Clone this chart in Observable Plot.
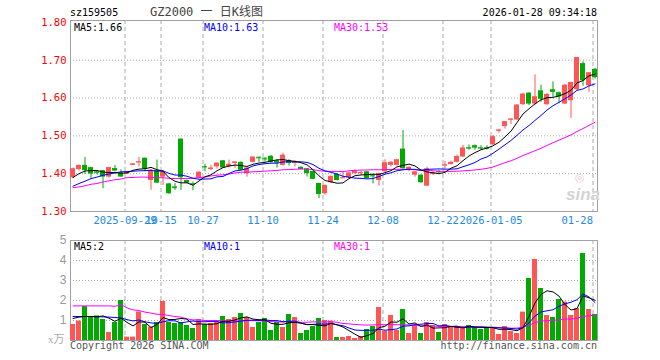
<!DOCTYPE html>
<html><head><meta charset="utf-8">
<script src="https://cdn.jsdelivr.net/npm/d3@7"></script>
<script src="https://cdn.jsdelivr.net/npm/@observablehq/plot@0.6"></script>
<style>
body{margin:0;background:#fff;}
#wrap{position:relative;width:660px;height:360px;overflow:hidden;font-family:"DejaVu Sans Mono","Liberation Mono",monospace;}
#wrap > svg{position:absolute;left:0;}
.t{position:absolute;font-size:10px;white-space:nowrap;line-height:10px;}
</style></head><body><div id="wrap"></div>
<script>
// ---- data ----
const dates = [
 "2025-09-16","2025-09-17","2025-09-18","2025-09-19","2025-09-22","2025-09-23","2025-09-24","2025-09-25","2025-09-26","2025-09-29",
 "2025-09-30","2025-10-09","2025-10-10","2025-10-13","2025-10-14","2025-10-15","2025-10-16","2025-10-17","2025-10-20","2025-10-21",
 "2025-10-22","2025-10-23","2025-10-27","2025-10-28","2025-10-29","2025-10-30","2025-10-31","2025-11-03","2025-11-04","2025-11-05",
 "2025-11-06","2025-11-07","2025-11-10","2025-11-11","2025-11-12","2025-11-13","2025-11-14","2025-11-17","2025-11-18","2025-11-19",
 "2025-11-20","2025-11-21","2025-11-24","2025-11-25","2025-11-26","2025-11-27","2025-11-28","2025-12-01","2025-12-02","2025-12-03",
 "2025-12-04","2025-12-05","2025-12-08","2025-12-09","2025-12-10","2025-12-11","2025-12-12","2025-12-15","2025-12-16","2025-12-17",
 "2025-12-18","2025-12-19","2025-12-22","2025-12-23","2025-12-24","2025-12-25","2025-12-26","2025-12-29","2025-12-30","2025-12-31",
 "2026-01-05","2026-01-06","2026-01-07","2026-01-08","2026-01-09","2026-01-12","2026-01-13","2026-01-14","2026-01-15","2026-01-16",
 "2026-01-19","2026-01-20","2026-01-21","2026-01-22","2026-01-23","2026-01-26","2026-01-27","2026-01-28"
];
const openP = [
 1.389,1.411,1.422,1.416,1.405,1.408,1.391,1.4135,1.402,1.399,
 1.422,1.429,1.441,1.382,1.409,1.391,1.373,1.365,1.4915,1.382,
 1.374,1.389,1.419,1.411,1.418,1.434,1.419,1.427,1.430,1.400,
 1.430,1.4435,1.441,1.446,1.434,1.422,1.435,1.428,1.417,1.413,
 1.406,1.374,1.347,1.376,1.398,1.388,1.389,1.400,1.400,1.405,
 1.397,1.382,1.405,1.422,1.422,1.465,1.411,1.396,1.396,1.367,
 1.398,1.406,1.421,1.424,1.430,1.444,1.469,1.474,1.469,1.469,
 1.476,1.513,1.5246,1.542,1.542,1.5825,1.613,1.584,1.619,1.5825,
 1.622,1.614,1.584,1.593,1.622,1.691,1.6325,1.676
];
const highP = [
 1.415,1.423,1.443,1.417,1.407,1.409,1.417,1.4215,1.410,1.406,
 1.427,1.443,1.441,1.411,1.436,1.407,1.374,1.374,1.4915,1.383,
 1.378,1.405,1.425,1.422,1.428,1.435,1.436,1.432,1.431,1.416,
 1.444,1.444,1.442,1.448,1.437,1.454,1.437,1.434,1.418,1.414,
 1.407,1.375,1.370,1.394,1.400,1.404,1.403,1.409,1.407,1.406,
 1.398,1.401,1.437,1.432,1.438,1.514,1.418,1.406,1.397,1.417,
 1.405,1.409,1.432,1.433,1.449,1.475,1.476,1.476,1.474,1.474,
 1.501,1.5175,1.538,1.546,1.582,1.613,1.614,1.661,1.634,1.612,
 1.643,1.616,1.636,1.642,1.707,1.696,1.668,1.678
];
const lowP = [
 1.387,1.407,1.398,1.387,1.396,1.360,1.388,1.405,1.390,1.398,
 1.421,1.418,1.405,1.356,1.374,1.369,1.345,1.356,1.356,1.374,
 1.355,1.388,1.405,1.408,1.412,1.414,1.415,1.414,1.408,1.391,
 1.428,1.430,1.430,1.428,1.415,1.420,1.420,1.418,1.410,1.391,
 1.384,1.334,1.343,1.374,1.381,1.387,1.387,1.399,1.396,1.386,
 1.373,1.367,1.404,1.418,1.420,1.412,1.405,1.391,1.375,1.366,
 1.395,1.401,1.412,1.423,1.428,1.443,1.462,1.462,1.462,1.463,
 1.475,1.507,1.518,1.530,1.541,1.580,1.580,1.580,1.5886,1.580,
 1.602,1.585,1.583,1.546,1.620,1.631,1.615,1.650
];
const closeP = [
 1.413,1.422,1.408,1.399,1.401,1.391,1.416,1.407,1.391,1.405,
 1.426,1.431,1.412,1.409,1.375,1.405,1.347,1.363,1.389,1.375,
 1.373,1.404,1.418,1.415,1.428,1.415,1.425,1.431,1.409,1.415,
 1.444,1.442,1.439,1.429,1.428,1.449,1.427,1.430,1.411,1.400,
 1.385,1.345,1.369,1.393,1.382,1.389,1.402,1.407,1.403,1.387,
 1.394,1.400,1.429,1.430,1.437,1.413,1.417,1.405,1.376,1.413,
 1.401,1.405,1.423,1.430,1.4456,1.468,1.4675,1.4675,1.4675,1.4675,
 1.498,1.515,1.5377,1.544,1.5816,1.6105,1.584,1.6035,1.5965,1.6096,
 1.615,1.603,1.634,1.641,1.707,1.6456,1.667,1.654
];
// volume in 万 (10k)
const volume = [
 0.80,0.97,1.70,1.20,1.23,1.05,0.40,0.90,2.00,0.17,
 0.17,1.43,0.80,0.67,0.90,1.95,0.90,0.85,0.90,0.75,
 0.60,1.05,0.80,0.85,0.90,1.20,1.05,1.15,1.35,1.15,
 0.65,0.90,1.10,0.50,0.90,0.65,1.30,1.15,0.35,0.50,
 0.70,1.10,1.00,0.97,0.15,0.15,0.20,0.10,0.20,0.55,
 0.70,1.65,0.47,1.25,0.50,1.55,0.35,0.75,0.35,0.90,
 0.75,0.40,0.80,0.67,0.67,0.67,0.75,0.65,0.55,0.65,
 0.63,0.30,0.70,0.45,0.35,1.42,3.10,4.05,2.60,1.25,
 1.15,2.05,1.92,1.25,1.60,4.35,1.55,1.30
];
// moving-average values before the window is full
const ma5Head  = [1.390,1.400,1.407,1.408];
const ma10Head = [1.367,1.374,1.380,1.387,1.391,1.396,1.399,1.402,1.405];
const ma30Head = [1.363,1.365,1.368,1.372,1.374,1.378,1.381,1.384,1.386,1.3895,
                  1.390,1.391,1.391,1.390,1.3895,1.389,1.388,1.387,1.387,1.387,
                  1.388,1.3895,1.391,1.394,1.396,1.397,1.399,1.402,1.404];
const vma5Head  = [1.10,1.17,1.20,1.20];
const vma10Head = [1.20,1.20,1.20,1.20,1.19,1.18,1.17,1.15,1.13];
const vma30Head = [1.73,1.73,1.73,1.73,1.73,1.73,1.73,1.71,1.79,1.63,
                   1.53,1.50,1.42,1.37,1.31,1.30,1.25,1.20,1.17,1.08,
                   1.03,1.03,1.00,1.00,1.00,0.99,0.99,0.98,0.98];
const tickDates  = ["2025-09-29","2025-10-15","2025-10-27","2025-11-10","2025-11-24","2025-12-08","2025-12-22","2026-01-05","2026-01-28"];
const tickLabels = ["2025-09-29","10-15","10-27","11-10","11-24","12-08","12-22","2026-01-05","01-28"];
const priceTicks = [1.30,1.40,1.50,1.60,1.70,1.80];
const volTicks = [1,2,3,4,5];
const priceMaLabels = ["MA5:1.66","MA10:1.63","MA30:1.53"];
const volMaLabels = ["MA5:2","MA10:1","MA30:1"];

// ---- build ----
const RED = "#ff5555", GREEN = "#00aa00";
function movingAvg(vals, n, head) {
  return vals.map((_, i) => i < n - 1 ? head[i] : d3.mean(vals.slice(i - n + 1, i + 1)));
}
const ma5 = movingAvg(closeP, 5, ma5Head), ma10 = movingAvg(closeP, 10, ma10Head), ma30 = movingAvg(closeP, 30, ma30Head);
const vma5 = movingAvg(volume, 5, vma5Head), vma10 = movingAvg(volume, 10, vma10Head), vma30 = movingAvg(volume, 30, vma30Head);
const rows = dates.map((d, i) => ({
  date: d, o: openP[i], h: highP[i], l: lowP[i], c: closeP[i], v: volume[i],
  col: closeP[i] >= openP[i] ? RED : GREEN,
  ma5: ma5[i], ma10: ma10[i], ma30: ma30[i], vma5: vma5[i], vma10: vma10[i], vma30: vma30[i]
}));
const labelOf = new Map(tickDates.map((d, i) => [d, tickLabels[i]]));
const xScale = {type: "band", domain: dates, range: [69.5, 596.5], paddingInner: 1/6, paddingOuter: 0, align: 0.5, axis: null, label: null};
const font = '"DejaVu Sans Mono","Liberation Mono",monospace';
const DATE_BLUE = "#1e88e5";

const price = Plot.plot({
  width: 660, height: 230, marginLeft: 70, marginRight: 63, marginTop: 20, marginBottom: 19,
  style: {fontFamily: font, fontSize: "10px", background: "transparent", overflow: "visible"},
  x: xScale,
  y: {domain: [1.30, 1.805], axis: null, label: null},
  color: {type: "identity"},
  marks: [
    Plot.frame({stroke: "#a0a0a0"}),
    Plot.ruleY(priceTicks.slice(1, -1), {stroke: "#aaa", strokeDasharray: "1,2"}),
    Plot.ruleX(tickDates, {x: d => d, dx: -2, stroke: "#aaa", strokeDasharray: "4,3"}),
    Plot.ruleX(rows, {x: "date", y1: "l", y2: "h", stroke: "col"}),
    Plot.barY(rows, {x: "date", y1: "o", y2: "c", fill: "col"}),
    Plot.tickY(rows.filter(r => Math.abs(r.o - r.c) < 0.004), {x: "date", y: "c", stroke: "col"}),
    Plot.line(rows, {x: "date", y: "ma30", stroke: "#ff00ff", strokeWidth: 1}),
    Plot.line(rows, {x: "date", y: "ma10", stroke: "#0000ff", strokeWidth: 1}),
    Plot.line(rows, {x: "date", y: "ma5", stroke: "#000", strokeWidth: 1}),
    Plot.axisY({ticks: priceTicks, tickFormat: d => d.toFixed(2), anchor: "left", tickSize: 0, tickPadding: 4, fill: "#ff0000", label: null, fontSize: 10.5}),
    Plot.axisX({ticks: tickDates.slice(0, -1), tickFormat: d => labelOf.get(d), anchor: "bottom", tickSize: 0, tickPadding: 5, dx: -2, fill: DATE_BLUE, label: null, fontSize: 10.5}),
    // the last date label sits flush left of its gridline, as in the reference
    Plot.text(tickDates.slice(-1), {x: d => d, text: d => labelOf.get(d), frameAnchor: "bottom", lineAnchor: "top", dy: 5, dx: -2, textAnchor: "end", fill: DATE_BLUE, fontSize: 10.5})
  ]
});
price.style.top = "0px";

const vol = Plot.plot({
  width: 660, height: 130, marginLeft: 70, marginRight: 63, marginTop: 10, marginBottom: 20,
  style: {fontFamily: font, fontSize: "10px", background: "transparent", overflow: "visible"},
  x: xScale,
  y: {domain: [0, 5], axis: null, label: null},
  color: {type: "identity"},
  marks: [
    Plot.frame({stroke: "#a0a0a0"}),
    Plot.ruleY(volTicks.slice(0, -1), {stroke: "#aaa", strokeDasharray: "1,2"}),
    Plot.ruleX(tickDates, {x: d => d, dx: -2, stroke: "#aaa", strokeDasharray: "4,3"}),
    Plot.barY(rows, {x: "date", y: "v", fill: "col"}),
    Plot.line(rows, {x: "date", y: "vma30", stroke: "#ff00ff", strokeWidth: 1}),
    Plot.line(rows, {x: "date", y: "vma10", stroke: "#0000ff", strokeWidth: 1}),
    Plot.line(rows, {x: "date", y: "vma5", stroke: "#000", strokeWidth: 1}),
    Plot.axisY({ticks: volTicks, tickFormat: d => String(d), anchor: "left", tickSize: 0, tickPadding: 4, fill: "#999", label: null,
                fontFamily: '"Liberation Sans",Arial,sans-serif', fontSize: 12})
  ]
});
vol.style.top = "230px";

const wrap = document.getElementById("wrap");
wrap.appendChild(price);
wrap.appendChild(vol);

function addText(txt, css) {
  const s = document.createElement("div");
  s.className = "t";
  s.textContent = txt;
  Object.assign(s.style, css);
  wrap.appendChild(s);
  return s;
}
addText("sz159505", {left: "70px", top: "8px", color: "#000"});
addText("GZ2000 一 日K线图", {left: "150px", top: "6px", color: "#444", fontSize: "12px", lineHeight: "12px", fontFamily: '"DejaVu Sans Mono","Noto Sans CJK SC",monospace'});
addText("2026-01-28 09:34:18", {right: "63px", top: "8px", color: "#000"});
const maCols = ["#000", "#0000ff", "#ff00ff"];
const maLeft = [74, 204, 334];
priceMaLabels.forEach((t, i) => addText(t, {left: maLeft[i] + "px", top: "23px", color: maCols[i]}));
volMaLabels.forEach((t, i) => addText(t, {left: maLeft[i] + "px", top: "242px", color: maCols[i]}));
addText("x万", {left: "48px", top: "334px", color: "#aaa", fontSize: "11px", lineHeight: "11px", fontFamily: '"Liberation Serif","Noto Sans CJK SC",serif'});
addText("Copyright 2026 SINA.COM", {left: "70px", top: "341px", color: "#555"});
addText("http://finance.sina.com.cn", {right: "63px", top: "341px", color: "#555"});
addText("◎", {left: "575px", top: "172px", color: "#f6c8c8", fontSize: "11px", lineHeight: "11px", fontFamily: '"DejaVu Sans",sans-serif'});
addText("sina", {left: "566px", top: "186px", color: "#d4d4d4", fontSize: "17px", lineHeight: "17px", fontWeight: "bold", fontStyle: "italic", fontFamily: '"Liberation Sans",Arial,sans-serif'});
</script>
</body></html>
